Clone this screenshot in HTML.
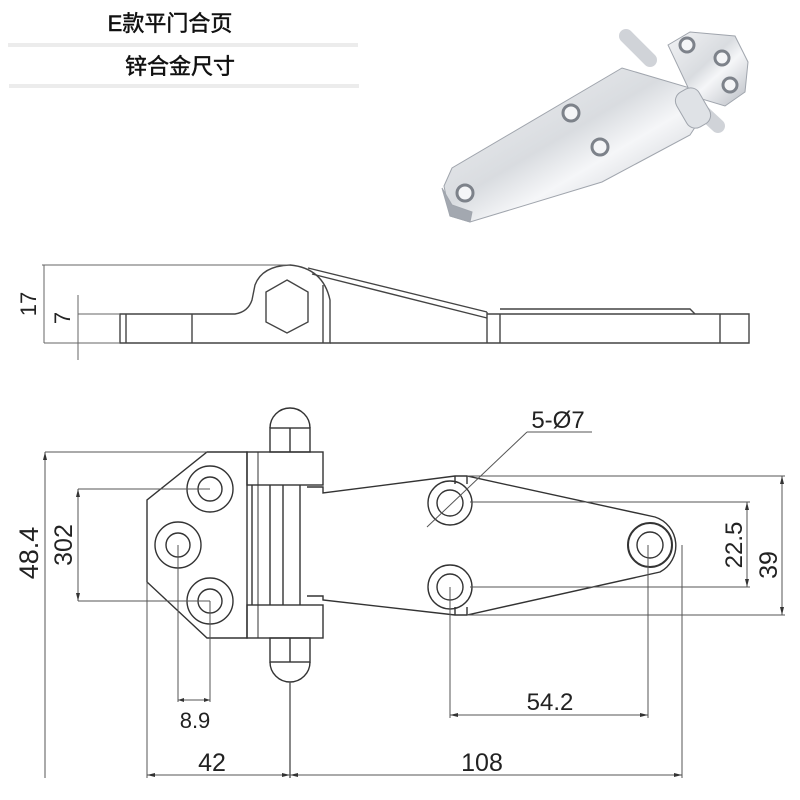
<!DOCTYPE html>
<html><head><meta charset="utf-8"><style>
html,body{margin:0;padding:0;background:#fff;}
svg{display:block;}
text{font-family:"Liberation Sans","Noto Sans CJK SC",sans-serif;}
</style></head><body>
<svg width="800" height="800" viewBox="0 0 800 800" xmlns="http://www.w3.org/2000/svg">
<defs>
<linearGradient id="chrome" x1="0" y1="0" x2="1" y2="1">
<stop offset="0" stop-color="#f2f3f5"/><stop offset="0.45" stop-color="#d9dce0"/><stop offset="0.6" stop-color="#f5f6f8"/><stop offset="1" stop-color="#b7bbc2"/></linearGradient>
</defs>
<text x="170" y="31" font-size="22" text-anchor="middle" fill="#111" stroke="#111" stroke-width="0.5">E款平门合页</text>
<rect x="8" y="43" width="350" height="4" fill="#ececec"/>
<text x="180" y="74" font-size="22" text-anchor="middle" fill="#111" stroke="#111" stroke-width="0.5">锌合金尺寸</text>
<rect x="9" y="84" width="350" height="4" fill="#ececec"/>

<g stroke="#a0a5ad" stroke-width="1">
<line x1="626" y1="36" x2="650" y2="60" stroke="#d0d3d8" stroke-width="14" stroke-linecap="round"/>
<line x1="690" y1="100" x2="718" y2="126" stroke="#d0d3d8" stroke-width="14" stroke-linecap="round"/>
<polygon points="444,186 452,168 622,68 690,88 705,112 690,135 602,182 470,222 450,216" fill="url(#chrome)"/>
<polygon points="442,188 450,216 470,222 472,212 452,205" fill="#a3a8b0"/>
<polygon points="668,45 690,32 735,36 748,62 745,92 725,106 692,96" fill="url(#chrome)"/>
<rect x="680" y="88" width="26" height="40" rx="10" fill="#dfe2e6" transform="rotate(-30 693 108)"/>
</g>
<g fill="#f4f5f7" stroke="#7d828a" stroke-width="3">
<circle cx="687" cy="45" r="7"/><circle cx="722" cy="58" r="7"/><circle cx="730" cy="85" r="7"/>
<circle cx="571" cy="113" r="8"/><circle cx="600" cy="147" r="8"/><circle cx="465" cy="193" r="8"/>
</g>

<g fill="none" stroke="#444" stroke-width="1.4">
<path d="M120,314 L235,314 Q248,312 252,300 L255,285 Q262,266 290,265 Q323,268 330,300 L330,343 L120,343 Z"/>
<line x1="126" y1="314" x2="126" y2="343"/>
<line x1="192" y1="314" x2="192" y2="343"/>
<path d="M323,285 L323,343"/>
<polygon points="287,280 308,292 308,322 287,333 266,322 266,292"/>
<path d="M308,268 L487,312 M312,274 L487,318"/>
<path d="M487,314 L749,314 L749,343 L330,343"/>
<path d="M500,309 L690,309 L695,314"/>
<line x1="487" y1="312" x2="487" y2="343"/>
<line x1="500" y1="314" x2="500" y2="343"/>
<line x1="720" y1="314" x2="720" y2="343"/>
</g>
<g stroke="#666" stroke-width="1" fill="none">
<line x1="42" y1="265" x2="290" y2="265"/>
<line x1="44" y1="265" x2="44" y2="343"/>
<line x1="44" y1="343" x2="120" y2="343"/>
<line x1="78" y1="295" x2="78" y2="360"/>
<line x1="78" y1="314" x2="120" y2="314"/>
</g>
<text font-size="22" fill="#222" text-anchor="middle" transform="translate(36,304) rotate(-90)">17</text>
<text font-size="22" fill="#222" text-anchor="middle" transform="translate(70,318) rotate(-90)">7</text>

<g fill="none" stroke="#333" stroke-width="1.4">
<polygon points="207,452 247,452 247,638 207,638 147,582 147,500"/>
<rect x="247" y="452" width="76" height="33"/>
<rect x="247" y="605" width="76" height="33"/>
<line x1="252" y1="485" x2="252" y2="605"/>
<line x1="270" y1="485" x2="270" y2="605"/>
<line x1="283" y1="485" x2="283" y2="605"/>
<line x1="300" y1="485" x2="300" y2="605"/>
<line x1="258" y1="452" x2="258" y2="638" stroke-width="1"/>
<rect x="270" y="428" width="40" height="24"/>
<line x1="290" y1="428" x2="290" y2="452"/>
<path d="M270,428 A20,20 0 0 1 310,428"/>
<rect x="270" y="638" width="40" height="24"/>
<line x1="290" y1="638" x2="290" y2="662"/>
<path d="M270,662 A20,20 0 0 0 310,662"/>
<circle cx="210" cy="489" r="23"/><circle cx="210" cy="489" r="12"/>
<circle cx="178" cy="545" r="23"/><circle cx="178" cy="545" r="12"/>
<circle cx="210" cy="601" r="23"/><circle cx="210" cy="601" r="12"/>
<path d="M307,487 L323,487 L323,493 L455,476 L467,476 L655,517 A30,30 0 0 1 660,572 L467,615 L455,615 L323,600 L323,596 L307,596"/>
<line x1="455" y1="476" x2="455" y2="484"/><line x1="467" y1="476" x2="467" y2="484"/>
<line x1="455" y1="607" x2="455" y2="615"/><line x1="467" y1="607" x2="467" y2="615"/>
<circle cx="450" cy="503" r="22"/><circle cx="450" cy="503" r="13"/>
<circle cx="450" cy="587" r="22"/><circle cx="450" cy="587" r="13"/>
<circle cx="650" cy="545" r="22" stroke-width="2"/><circle cx="650" cy="545" r="13"/>
</g>
<g stroke="#555" stroke-width="1" fill="none">
<line x1="45" y1="452" x2="207" y2="452"/><line x1="45" y1="452" x2="45" y2="778"/>
<line x1="78" y1="489" x2="210" y2="489"/><line x1="78" y1="601" x2="210" y2="601"/><line x1="78" y1="489" x2="78" y2="601"/>
<line x1="147" y1="582" x2="147" y2="778"/>
<line x1="178" y1="545" x2="178" y2="702"/><line x1="210" y1="601" x2="210" y2="702"/><line x1="178" y1="700" x2="210" y2="700"/>
<line x1="290" y1="682" x2="290" y2="778" stroke-width="1.4"/>
<line x1="147" y1="775" x2="682" y2="775"/>
<line x1="682" y1="545" x2="682" y2="778"/>
<line x1="450" y1="587" x2="450" y2="718"/><line x1="648" y1="545" x2="648" y2="718"/><line x1="450" y1="715" x2="648" y2="715"/>
<line x1="467" y1="476" x2="785" y2="476"/><line x1="467" y1="615" x2="785" y2="615"/><line x1="782" y1="476" x2="782" y2="615"/>
<line x1="470" y1="502" x2="750" y2="502"/><line x1="470" y1="587" x2="750" y2="587"/><line x1="747" y1="502" x2="747" y2="587"/>
<line x1="527" y1="432" x2="592" y2="432"/><line x1="527" y1="432" x2="427" y2="527"/>
</g>
<g fill="#333">
<polygon points="45,452 43,460 47,460"/><polygon points="78,489 76,497 80,497"/><polygon points="78,601 76,593 80,593"/>
<polygon points="782,476 780,484 784,484"/><polygon points="782,615 780,607 784,607"/>
<polygon points="747,502 745,510 749,510"/><polygon points="747,587 745,579 749,579"/>
<polygon points="450,715 458,713 458,717"/><polygon points="648,715 640,713 640,717"/>
<polygon points="147,775 155,773 155,777"/><polygon points="290,775 282,773 282,777"/><polygon points="290,775 298,773 298,777"/><polygon points="682,775 674,773 674,777"/>
<polygon points="178,700 184,698 184,702"/><polygon points="210,700 204,698 204,702"/>
</g>
<g font-size="24" fill="#222" text-anchor="middle">
<text transform="translate(38,553) rotate(-90)" font-size="27">48.4</text>
<text transform="translate(72,545) rotate(-90)" font-size="25">302</text>
<text transform="translate(742,545) rotate(-90)">22.5</text>
<text transform="translate(777,565) rotate(-90)" font-size="25">39</text>
<text x="558" y="428">5-Ø7</text>
<text x="550" y="710">54.2</text>
<text x="195" y="728" font-size="22">8.9</text>
<text x="212" y="771" font-size="25">42</text>
<text x="482" y="771" font-size="25">108</text>
</g>
</svg>
</body></html>
